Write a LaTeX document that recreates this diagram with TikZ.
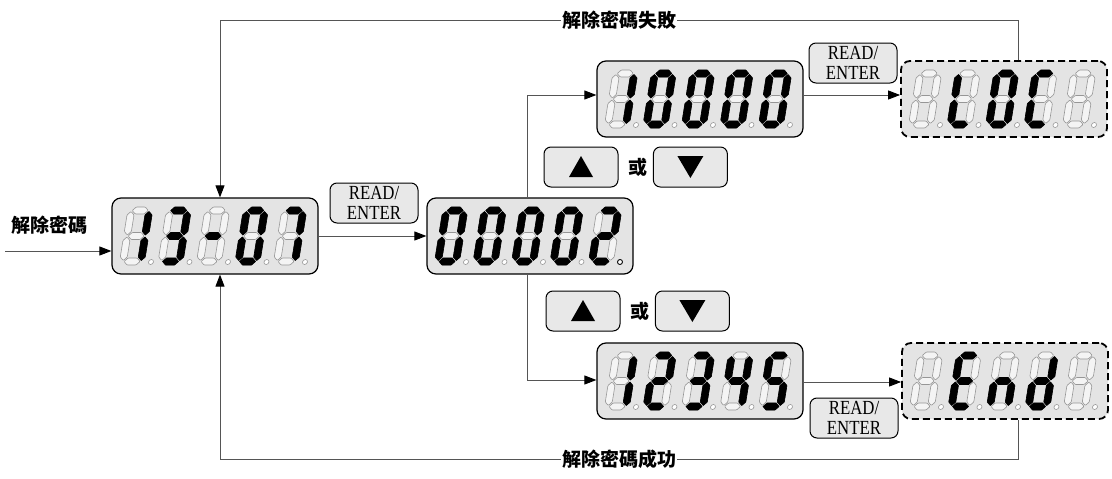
\documentclass[tikz,border=0pt]{standalone}
\usepackage{fontspec}
\setmainfont{Liberation Serif}
\newfontfamily\keyfont{Liberation Serif}[FakeStretch=0.84]
\newfontfamily\cjk{Noto Sans CJK TC}
\usetikzlibrary{arrows.meta,positioning}
\definecolor{lcdgray}{RGB}{228,228,228}
\definecolor{keygray}{RGB}{232,232,232}
\definecolor{segline}{RGB}{150,150,150}
\definecolor{wiregray}{RGB}{85,85,85}

% segments of one digit, in the digit's own frame (25 x 58)
\newcommand{\hseg}[2]{\path[#1] (4.5,#2) -- ++(3.5,3.5) -- ++(9,0) -- ++(3.5,-3.5) -- ++(-3.5,-3.5) -- ++(-9,0) -- cycle;}
\newcommand{\vseg}[3]{\path[#1] (#2,#3) -- ++(3.5,3.5) -- ++(0,16.5) -- ++(-3.5,3.5) -- ++(-3.5,-3.5) -- ++(0,-16.5) -- cycle;}
\newcommand{\segA}[1]{\hseg{#1}{54.5}}
\newcommand{\segB}[1]{\vseg{#1}{21.5}{30}}
\newcommand{\segC}[1]{\vseg{#1}{21.5}{4.5}}
\newcommand{\segD}[1]{\hseg{#1}{3.5}}
\newcommand{\segE}[1]{\vseg{#1}{3.5}{4.5}}
\newcommand{\segF}[1]{\vseg{#1}{3.5}{30}}
\newcommand{\segG}[1]{\hseg{#1}{29}}
\newcommand{\segnone}[1]{}

% digit #2 (0..4) of display #1, lit segments #3
\newcommand{\lcddigit}[3]{%
  \begin{scope}[shift={(#1.center)},shift={(-96+38.5*#2,-29)},xslant=0.16]
    \foreach \s in {A,B,C,D,E,F,G} {\csname seg\s\endcsname{segoff}}
    \foreach \s in {#3} {\csname seg\s\endcsname{segon}}
    \draw[dpoff] (31.5,3) circle (2.5);
  \end{scope}}
\newcommand{\lcdshow}[6]{%
  \lcddigit{#1}{0}{#2}\lcddigit{#1}{1}{#3}\lcddigit{#1}{2}{#4}%
  \lcddigit{#1}{3}{#5}\lcddigit{#1}{4}{#6}}

\begin{document}
\begin{tikzpicture}[x=1pt, y=1pt, font=\keyfont\fontsize{20}{20}\selectfont,
  lcd/.style={draw, line width=1.2pt, rounded corners=9pt, fill=lcdgray,
    minimum width=206pt, minimum height=76pt, inner sep=0pt},
  lcddash/.style={lcd, dash pattern=on 7pt off 4pt, line width=1.8pt},
  keybtn/.style={draw, line width=1pt, rounded corners=7pt, fill=keygray,
    minimum width=88pt, minimum height=40pt, inner sep=0pt, align=center},
  arrowkey/.style={keybtn, minimum width=74pt},
  segoff/.style={draw=segline, fill=white!60!lcdgray, line width=0.6pt, rounded corners=0.8pt},
  segon/.style={draw=black, fill=black, line width=0.6pt},
  dpoff/.style={draw=segline, fill=white, line width=0.6pt},
  wire/.style={draw=wiregray, line width=0.9pt,
    -{Triangle[length=12pt,width=9pt,color=black]}},
  msg/.style={fill=white, inner sep=1pt, font=\cjk\bfseries\fontsize{19}{19}\selectfont}]

  \useasboundingbox (0,0) rectangle (1112,-479);

  \node[lcd] (d1) at (215,-236) {};
  \node[lcd] (d2) at (530,-236) {};
  \node[lcd] (d3) at (700,-99) {};
  \node[lcddash] (d4) at (1004,-99) {};
  \node[lcd] (d5) at (700,-381) {};
  \node[lcddash] (d6) at (1005,-381) {};

  \lcdshow{d1}{B,C}{A,B,C,D,G}{G}{A,B,C,D,E,F}{A,B,C}
  \lcdshow{d2}{A,B,C,D,E,F}{A,B,C,D,E,F}{A,B,C,D,E,F}{A,B,C,D,E,F}{A,B,D,E,G}
  \lcdshow{d3}{B,C}{A,B,C,D,E,F}{A,B,C,D,E,F}{A,B,C,D,E,F}{A,B,C,D,E,F}
  \lcdshow{d4}{none}{D,E,F}{A,B,C,D,E,F}{A,D,E,F}{none}
  \lcdshow{d5}{B,C}{A,B,D,E,G}{A,B,C,D,G}{B,C,F,G}{A,C,D,F,G}
  \lcdshow{d6}{none}{A,D,E,F,G}{C,E,G}{B,C,D,E,G}{none}
  \draw[line width=0.8pt] ([shift={(90,-26)}]d2.center) circle (2.5);

  \node[keybtn] (rd1) at (374,-203) {READ/\\ENTER};
  \node[keybtn] (rd2) at (853,-63) {READ/\\ENTER};
  \node[keybtn] (rd3) at (854,-418) {READ/\\ENTER};

  \node[arrowkey] (up1) at (581,-167) {};
  \node[right=10pt of up1, inner sep=0pt, font=\cjk\bfseries\fontsize{19}{19}\selectfont] (or1) {或};
  \node[arrowkey, right=5pt of or1] (dn1) {};
  \node[arrowkey] (up2) at (583,-311) {};
  \node[right=10pt of up2, inner sep=0pt, font=\cjk\bfseries\fontsize{19}{19}\selectfont] (or2) {或};
  \node[arrowkey, right=5pt of or2] (dn2) {};
  \foreach \k in {up1,up2} \fill[shift={(\k.center)}] (-12,-10) -- (12,-10) -- (0,11) -- cycle;
  \foreach \k in {dn1,dn2} \fill[shift={(\k.center)}] (-13,11) -- (13,11) -- (0,-11) -- cycle;

  \node[msg, fill=none] (pw) at (50,-225) {解除密碼};
  \coordinate (in) at (5,-251);
  \coordinate (failtop) at (220,-20);
  \coordinate (okbot) at (220,-459);

  \draw[wire] (in) -- (d1.west |- in);
  \draw[wire] (d1.east) -- (d2.west);
  \draw[wire] ([xshift=-3pt]d2.north) |- ([yshift=4pt]d3.west);
  \draw[wire] ([xshift=-3pt]d2.south) |- ([yshift=1pt]d5.west);
  \draw[wire] ([yshift=4pt]d3.east) -- ([yshift=4pt]d4.west);
  \draw[wire] ([yshift=-1pt]d5.east) -- ([yshift=-1pt]d6.west);
  \draw[wire] ([xshift=14pt]d4.north) |- (failtop) node[msg, pos=0.75] {解除密碼失敗}
    -- ([xshift=5pt]d1.north);
  \draw[wire] ([xshift=13pt]d6.south) |- (okbot) node[msg, pos=0.75] {解除密碼成功}
    -- ([xshift=5pt]d1.south);
\end{tikzpicture}
\end{document}
